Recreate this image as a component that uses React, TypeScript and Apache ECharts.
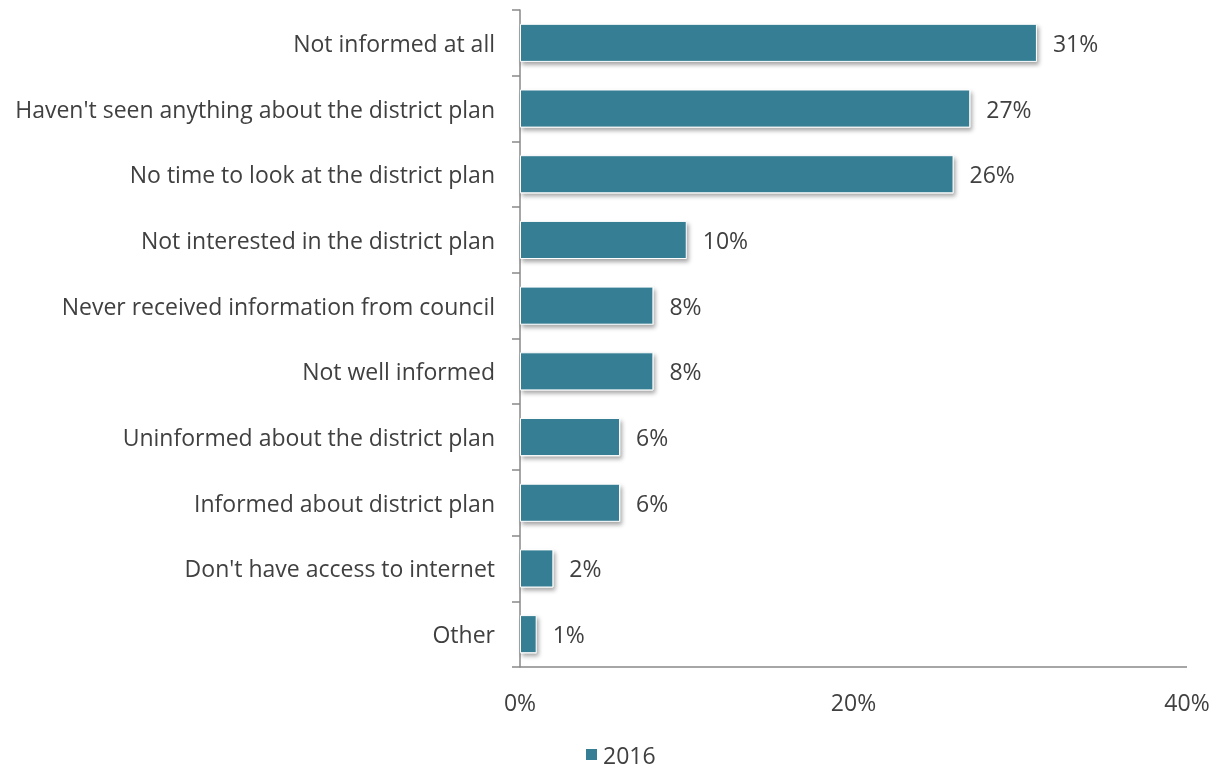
import React, { useEffect, useRef } from "react";
import * as echarts from "echarts";

const categories = [
  "Not informed at all",
  "Haven't seen anything about the district plan",
  "No time to look at the district plan",
  "Not interested in the district plan",
  "Never received information from council",
  "Not well informed",
  "Uninformed about the district plan",
  "Informed about district plan",
  "Don't have access to internet",
  "Other",
];
const values2016 = [31, 27, 26, 10, 8, 8, 6, 6, 2, 1];
const seriesName = "2016";
const xTicks = [0, 20, 40];

const FONT = "'Open Sans', sans-serif";
const TEXT = "#404040";
const FS = 23;

export default function App() {
  const ref = useRef<HTMLDivElement>(null);
  useEffect(() => {
    if (!ref.current) return;
    const chart = echarts.init(ref.current, undefined, { renderer: "svg" });
    chart.setOption({
      animation: false,
      textStyle: { fontFamily: FONT, color: TEXT },
      grid: { left: 520, right: 32, top: 10, bottom: 102, containLabel: false },
      legend: {
        data: [seriesName],
        left: 584,
        top: 743,
        padding: 0,
        icon: "rect",
        itemWidth: 13,
        itemHeight: 13,
        itemGap: 6,
        textStyle: { fontFamily: FONT, fontSize: FS, color: TEXT },
      },
      xAxis: {
        type: "value",
        min: xTicks[0],
        max: xTicks[xTicks.length - 1],
        interval: 20,
        axisLine: { show: false },
        axisTick: { show: false },
        splitLine: { show: false },
        axisLabel: {
          formatter: (v: number) => v + "%",
          fontFamily: FONT,
          fontSize: FS,
          color: TEXT,
          margin: 23,
        },
      },
      yAxis: {
        type: "category",
        data: categories,
        inverse: true,
        axisLine: { show: true, lineStyle: { color: "#888888", width: 1.5 } },
        axisTick: { show: true, length: 8, lineStyle: { color: "#888888", width: 1.5 } },
        axisLabel: { fontFamily: FONT, fontSize: FS, color: TEXT, margin: 25 },
      },
      series: [
        {
          name: seriesName,
          type: "bar",
          data: values2016,
          barCategoryGap: "42%",
          itemStyle: {
            color: "#367E93",
            borderColor: "#ffffff",
            borderWidth: 1,
            shadowColor: "rgba(0,0,0,0.35)",
            shadowBlur: 4,
            shadowOffsetX: 2,
            shadowOffsetY: 3,
          },
          label: {
            show: true,
            position: "right",
            distance: 16,
            formatter: (p: any) => p.value + "%",
            fontFamily: FONT,
            fontSize: FS,
            color: TEXT,
          },
        },
        {
          type: "line",
          silent: true,
          data: [],
          markLine: {
            silent: true,
            symbol: "none",
            label: { show: false },
            lineStyle: { color: "#888888", width: 1.5, type: "solid" },
            data: [[{ coord: [0, categories.length - 1], y: 667 }, { coord: [40, categories.length - 1], y: 667 }]],
          },
        },
      ],
    });
    return () => chart.dispose();
  }, []);
  return <div ref={ref} style={{ position: "fixed", left: 0, top: 0, width: 1219, height: 769 }} />;
}
